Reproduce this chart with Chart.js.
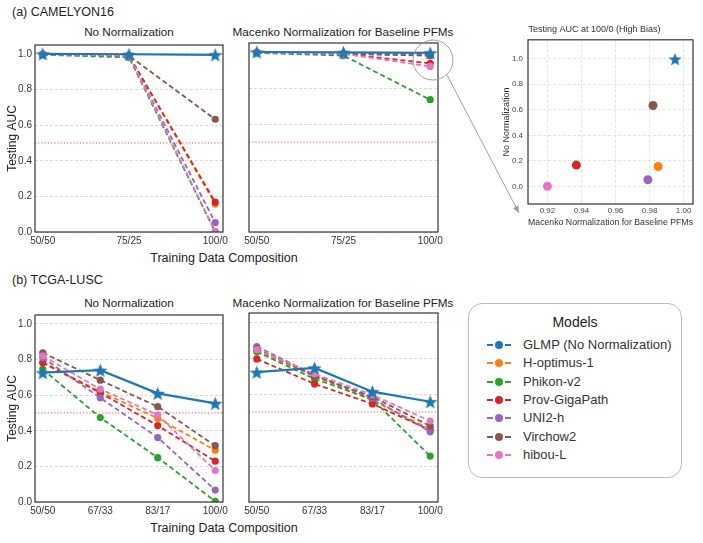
<!DOCTYPE html>
<html>
<head>
<meta charset="utf-8">
<script src="https://cdn.jsdelivr.net/npm/chart.js@4.4.0/dist/chart.umd.min.js"></script>
<style>
  body { margin: 0; background: #fff; font-family: "Liberation Sans", Arial, sans-serif; color: #222; }
  #wrap { position: relative; width: 703px; height: 543px; overflow: hidden; }
  .abs { position: absolute; }
  .lbl { position: absolute; white-space: nowrap; transform: translate(-50%, -50%); }
  .tag { position: absolute; white-space: nowrap; transform: translateY(-50%); font-size: 12.5px;
         font-family: "Liberation Sans Narrow", "Liberation Sans", Arial, sans-serif; }
  #legend { position: absolute; left: 468px; top: 303px; width: 214px; height: 175px; box-sizing: border-box;
            border: 1px solid #bdbdbd; border-radius: 14px; }
  .item { position: absolute; left: 0; height: 18px; font-size: 13px; line-height: 18px; color: #333; }
  .item svg { position: absolute; left: 18px; top: 4px; }
  .item span { position: absolute; left: 54px; white-space: nowrap; }
</style>
</head>
<body>
<div id="wrap">
  <div class="tag" style="left:12px;top:12px">(a) CAMELYON16</div>
  <div class="lbl" style="left:129px;top:31px;font-size:11.7px">No Normalization</div>
  <div class="lbl" style="left:343px;top:31px;font-size:11.7px">Macenko Normalization for Baseline PFMs</div>
  <div class="lbl" style="left:224px;top:258px;font-size:12.5px">Training Data Composition</div>

  <div class="tag" style="left:12px;top:280px">(b) TCGA-LUSC</div>
  <div class="lbl" style="left:129px;top:302px;font-size:11.7px">No Normalization</div>
  <div class="lbl" style="left:343px;top:302px;font-size:11.7px">Macenko Normalization for Baseline PFMs</div>
  <div class="lbl" style="left:224px;top:528px;font-size:12.5px">Training Data Composition</div>

  <canvas id="camNo" class="abs" width="233" height="212" style="left:0;top:36px"></canvas>
  <canvas id="camMac" class="abs" width="208" height="212" style="left:240px;top:36px"></canvas>
  <canvas id="camScatter" class="abs" width="205" height="212" style="left:496px;top:20px"></canvas>
  <canvas id="tcgaNo" class="abs" width="233" height="212" style="left:0;top:306px"></canvas>
  <canvas id="tcgaMac" class="abs" width="208" height="212" style="left:240px;top:306px"></canvas>

  <div id="legend">
    <div class="lbl" style="left:50%;top:18px;font-size:14px">Models</div>
  </div>

  <svg class="abs" style="left:0;top:0;pointer-events:none" width="703" height="543">
    <defs>
      <marker id="ah" markerWidth="8" markerHeight="8" refX="7" refY="4" orient="auto" markerUnits="userSpaceOnUse">
        <path d="M0,1 L7,4 L0,7 Z" fill="#999"/>
      </marker>
    </defs>
    <circle cx="433" cy="60" r="20" fill="none" stroke="#a0a0a0" stroke-width="1"/>
    <line x1="447" y1="75" x2="519" y2="213" stroke="#a0a0a0" stroke-width="1" marker-end="url(#ah)"/>
  </svg>
</div>

<script>
// categories and models
const camCategories = ['50/50', '75/25', '100/0'];
const tcgaCategories = ['50/50', '67/33', '83/17', '100/0'];
const models = ['GLMP (No Normalization)', 'H-optimus-1', 'Phikon-v2', 'Prov-GigaPath', 'UNI2-h', 'Virchow2', 'hibou-L'];
const colors = ['#1f77b4', '#ff7f0e', '#2ca02c', '#d62728', '#9467bd', '#8c564b', '#e377c2'];
const yTicks = [0, 0.2, 0.4, 0.6, 0.8, 1.0];
const chanceLevel = 0.5;

// CAMELYON16, rows in model order
const camNoNorm = [
  [1.0, 0.998, 0.995],
  [0.998, 0.99, 0.157],
  [0.995, 0.98, 0.0],
  [0.998, 0.99, 0.168],
  [0.998, 0.99, 0.053],
  [0.998, 0.99, 0.633],
  [0.998, 0.99, 0.003]
];
const camMacenko = [
  [1.0, 0.998, 0.995],
  [0.998, 0.993, 0.985],
  [0.995, 0.98, 0.735],
  [0.998, 0.99, 0.937],
  [0.998, 0.99, 0.979],
  [0.998, 0.99, 0.982],
  [0.998, 0.99, 0.92]
];

// TCGA-LUSC
const tcgaNoNorm = [
  [0.726, 0.74, 0.61, 0.554],
  [0.786, 0.619, 0.47, 0.29],
  [0.745, 0.474, 0.249, 0.004],
  [0.782, 0.613, 0.429, 0.229],
  [0.81, 0.585, 0.362, 0.067],
  [0.838, 0.684, 0.535, 0.316],
  [0.82, 0.634, 0.489, 0.177]
];
const tcgaMacenko = [
  [0.721, 0.745, 0.613, 0.557],
  [0.84, 0.70, 0.565, 0.405],
  [0.835, 0.684, 0.57, 0.255],
  [0.795, 0.656, 0.545, 0.40],
  [0.864, 0.705, 0.576, 0.39],
  [0.852, 0.70, 0.585, 0.422],
  [0.846, 0.712, 0.595, 0.45]
];

// scatter ticks (100/0 comparison)
const scatterXTicks = [0.92, 0.94, 0.96, 0.98, 1.00];
const scatterYTicks = [0, 0.2, 0.4, 0.6, 0.8, 1.0];

// lower order = drawn on top (GLMP first, then later matplotlib lines)
const drawOrder = [0, 6, 5, 4, 3, 2, 1];

function starImage(size, color) {
  const c = document.createElement('canvas');
  c.width = c.height = size;
  const g = c.getContext('2d');
  const R = size / 2, r = R * 0.42, cx = size / 2, cy = size / 2 + R * 0.1;
  g.beginPath();
  for (let i = 0; i < 10; i++) {
    const a = -Math.PI / 2 + i * Math.PI / 5;
    const rad = i % 2 ? r : R;
    g.lineTo(cx + rad * Math.cos(a), cy + rad * Math.sin(a));
  }
  g.closePath();
  g.fillStyle = color;
  g.fill();
  return c;
}
const lineStar = starImage(15, colors[0]);
const scatterStar = starImage(14, colors[0]);

function framePlugin(chance) {
  return {
    id: 'frame',
    beforeDatasetsDraw(chart) {
      if (chance == null) return;
      const { ctx, chartArea: a, scales: { y } } = chart;
      const py = y.getPixelForValue(chance);
      ctx.save();
      ctx.strokeStyle = '#ff4d4d';
      ctx.lineWidth = 1;
      ctx.setLineDash([1.2, 2]);
      ctx.beginPath();
      ctx.moveTo(a.left, py);
      ctx.lineTo(a.right, py);
      ctx.stroke();
      ctx.restore();
    },
    afterDraw(chart) {
      const { ctx, chartArea: a } = chart;
      ctx.save();
      ctx.strokeStyle = '#333';
      ctx.lineWidth = 1.2;
      ctx.strokeRect(a.left, a.top, a.width, a.height);
      ctx.restore();
    }
  };
}

function lineChart(id, cats, table, showY) {
  const pad = 0.045 * (cats.length - 1);
  const datasets = models.map((m, i) => {
    const glmp = i === 0;
    return {
      label: m,
      data: table[i].map((v, j) => ({ x: j, y: v })),
      borderColor: colors[i],
      backgroundColor: colors[i],
      borderWidth: glmp ? 2.2 : 1.8,
      borderDash: glmp ? [] : [5, 3],
      pointStyle: glmp ? lineStar : 'circle',
      pointRadius: glmp ? 7 : 3.6,
      pointBorderWidth: 0,
      order: drawOrder[i]
    };
  });
  return new Chart(document.getElementById(id), {
    type: 'line',
    data: { datasets: datasets },
    options: {
      responsive: false,
      animation: false,
      layout: { padding: { top: 7, right: 10, left: 0, bottom: 0 } },
      plugins: { legend: { display: false }, tooltip: { enabled: false } },
      scales: {
        x: {
          type: 'linear',
          min: -pad,
          max: cats.length - 1 + pad,
          afterBuildTicks: s => { s.ticks = cats.map((c, j) => ({ value: j })); },
          ticks: { callback: v => cats[v], font: { size: 10, family: 'Liberation Sans' }, color: '#333', padding: 3, maxRotation: 0, autoSkip: false },
          grid: { display: false, drawTicks: false },
          border: { display: false },
          afterFit: s => { s.height = 16; }
        },
        y: {
          min: 0,
          max: 1.05,
          afterBuildTicks: s => { s.ticks = yTicks.map(v => ({ value: v })); },
          ticks: { display: showY, callback: v => v.toFixed(1), font: { size: 10, family: 'Liberation Sans' }, color: '#333', padding: 3 },
          grid: { color: '#cfcfcf', lineWidth: 0.8, drawTicks: false },
          border: { display: false, dash: [3, 2] },
          title: { display: showY, text: 'Testing AUC', font: { size: 12, family: 'Liberation Sans' }, color: '#222', padding: { top: 5, bottom: 0 } },
          afterFit: s => { s.width = showY ? 35 : 9; }
        }
      }
    },
    plugins: [framePlugin(chanceLevel)]
  });
}

lineChart('camNo', camCategories, camNoNorm, true);
lineChart('camMac', camCategories, camMacenko, false);
lineChart('tcgaNo', tcgaCategories, tcgaNoNorm, true);
lineChart('tcgaMac', tcgaCategories, tcgaMacenko, false);

// scatter: 100/0 results, Macenko (x) vs No Normalization (y)
const last = camCategories.length - 1;
const scatterSets = models.map((m, i) => ({
  label: m,
  data: [{ x: camMacenko[i][last], y: camNoNorm[i][last] }],
  backgroundColor: colors[i],
  borderWidth: 0,
  pointStyle: i === 0 ? scatterStar : 'circle',
  pointRadius: i === 0 ? 7 : 4.5
}));
new Chart(document.getElementById('camScatter'), {
  type: 'scatter',
  data: { datasets: scatterSets },
  options: {
    responsive: false,
    animation: false,
    layout: { padding: { top: 0, right: 8, left: 0, bottom: 0 } },
    plugins: {
      legend: { display: false },
      tooltip: { enabled: false },
      title: { display: true, text: 'Testing AUC at 100/0 (High Bias)', font: { size: 9, weight: 'normal', family: 'Liberation Sans' }, color: '#333', padding: { top: 4, bottom: 5 } }
    },
    scales: {
      x: {
        type: 'linear',
        min: 0.9086,
        max: 1.0055,
        afterBuildTicks: s => { s.ticks = scatterXTicks.map(v => ({ value: v })); },
        ticks: { callback: v => v.toFixed(2), font: { size: 8, family: 'Liberation Sans' }, color: '#444', padding: 2, maxRotation: 0 },
        grid: { color: '#dddddd', lineWidth: 0.8, drawTicks: false },
        border: { display: false, dash: [3, 2] },
        title: { display: true, text: 'Macenko Normalization for Baseline PFMs', font: { size: 9, family: 'Liberation Sans' }, color: '#333', padding: { top: 4, bottom: 4 } },
        afterFit: s => { s.height = 28; }
      },
      y: {
        min: -0.136,
        max: 1.146,
        afterBuildTicks: s => { s.ticks = scatterYTicks.map(v => ({ value: v })); },
        ticks: { callback: v => v.toFixed(1), font: { size: 8, family: 'Liberation Sans' }, color: '#444', padding: 5 },
        grid: { color: '#dddddd', lineWidth: 0.8, drawTicks: false },
        border: { display: false, dash: [3, 2] },
        title: { display: true, text: 'No Normalization', font: { size: 9, family: 'Liberation Sans' }, color: '#333', padding: { top: 5, bottom: 0 } },
        afterFit: s => { s.width = 32; }
      }
    }
  },
  plugins: [framePlugin(null)]
});

// legend box
const legend = document.getElementById('legend');
models.forEach((m, i) => {
  const item = document.createElement('div');
  item.className = 'item';
  item.style.top = (32 + i * 18.3) + 'px';
  item.style.width = '100%';
  item.innerHTML =
    '<svg width="28" height="10"><line x1="0" y1="5" x2="27" y2="5" stroke="' + colors[i] +
    '" stroke-width="2" stroke-dasharray="6,3"/><circle cx="12" cy="5" r="4" fill="' + colors[i] + '"/></svg>' +
    '<span>' + m + '</span>';
  legend.appendChild(item);
});
</script>
</body>
</html>
